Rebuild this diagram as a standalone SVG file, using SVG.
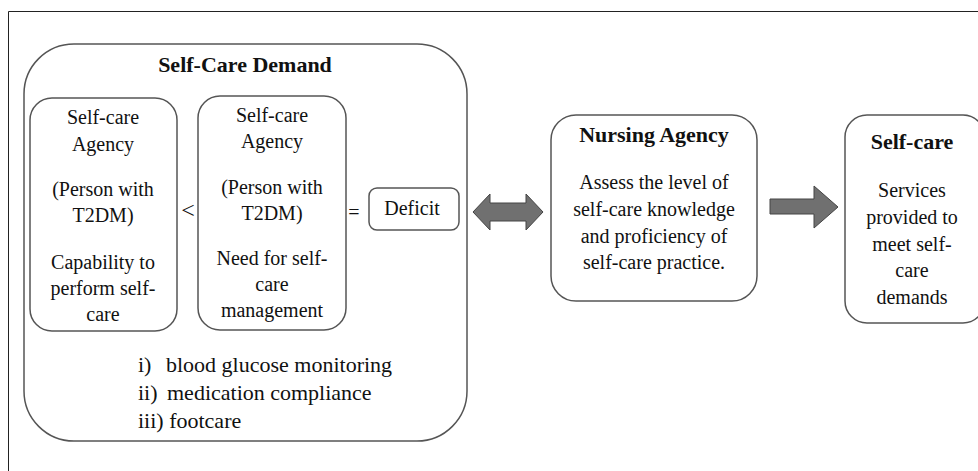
<svg xmlns="http://www.w3.org/2000/svg" width="978" height="471" viewBox="0 0 978 471" font-family="Liberation Serif, Times New Roman, serif">
<style>
.box{fill:#fff;stroke:#555;stroke-width:1.5}
text{fill:#111}
.t{font-size:20px;text-anchor:middle}
.b{font-weight:bold;font-size:22px}
.l{font-size:22px}
.arr{fill:#707070;stroke:#444;stroke-width:1}
</style>
<rect width="978" height="471" fill="#fff"/>
<path d="M8.5 471 V11.5 H978" fill="none" stroke="#222" stroke-width="1"/>
<g id="demand" font-family="Liberation Serif, serif">
<rect class="box" x="24" y="44" width="443" height="397" rx="50"/>
<text class="t b" x="245" y="72">Self-Care Demand</text>
<text class="l" x="138" y="372">i)</text><text class="l" x="166" y="372">blood glucose monitoring</text>
<text class="l" x="138" y="400">ii)</text><text class="l" x="167" y="400">medication compliance</text>
<text class="l" x="138" y="428">iii) footcare</text>
</g>
<g id="agency1" font-family="Liberation Serif, serif">
<rect class="box" x="30" y="98" width="147" height="233" rx="22"/>
<text class="t" x="103" y="124">Self-care</text>
<text class="t" x="103" y="151">Agency</text>
<text class="t" x="103" y="196">(Person with</text>
<text class="t" x="103" y="222">T2DM)</text>
<text class="t" x="103" y="269">Capability to</text>
<text class="t" x="103" y="295">perform self-</text>
<text class="t" x="103" y="321">care</text>
</g>
<text class="t" x="188" y="218" style="font-size:24px" font-family="Liberation Serif, serif">&lt;</text>
<g id="agency2" font-family="Liberation Serif, serif">
<rect class="box" x="198" y="96" width="148" height="234" rx="22"/>
<text class="t" x="272" y="122">Self-care</text>
<text class="t" x="272" y="148">Agency</text>
<text class="t" x="272" y="194">(Person with</text>
<text class="t" x="272" y="220">T2DM)</text>
<text class="t" x="272" y="265">Need for self-</text>
<text class="t" x="272" y="291">care</text>
<text class="t" x="272" y="317">management</text>
</g>
<text class="t" x="354" y="219" font-family="Liberation Serif, serif">=</text>
<g id="deficit" font-family="Liberation Serif, serif">
<rect class="box" x="369" y="188" width="90" height="42" rx="8"/>
<text class="t" x="412" y="215">Deficit</text>
</g>
<g id="connectors">
<path class="arr" d="M473 212 L490 194 V203 H526 V194 L543 212 L526 230 V221 H490 V230 Z"/>
<path class="arr" d="M770 199 H814 V186 L838 207 L814 228 V214 H770 Z"/>
</g>
<g id="nursing" font-family="Liberation Serif, serif">
<rect class="box" x="551" y="115" width="206" height="186" rx="25"/>
<text class="t b" x="654" y="142">Nursing Agency</text>
<text class="t" x="654" y="189">Assess the level of</text>
<text class="t" x="654" y="216">self-care knowledge</text>
<text class="t" x="654" y="243">and proficiency of</text>
<text class="t" x="654" y="269">self-care practice.</text>
</g>
<g id="selfcare" font-family="Liberation Serif, serif">
<rect class="box" x="845" y="115" width="140" height="208" rx="22"/>
<text class="t b" x="912" y="149">Self-care</text>
<text class="t" x="912" y="197">Services</text>
<text class="t" x="912" y="224">provided to</text>
<text class="t" x="912" y="251">meet self-</text>
<text class="t" x="912" y="277">care</text>
<text class="t" x="912" y="304">demands</text>
</g>
</svg>
